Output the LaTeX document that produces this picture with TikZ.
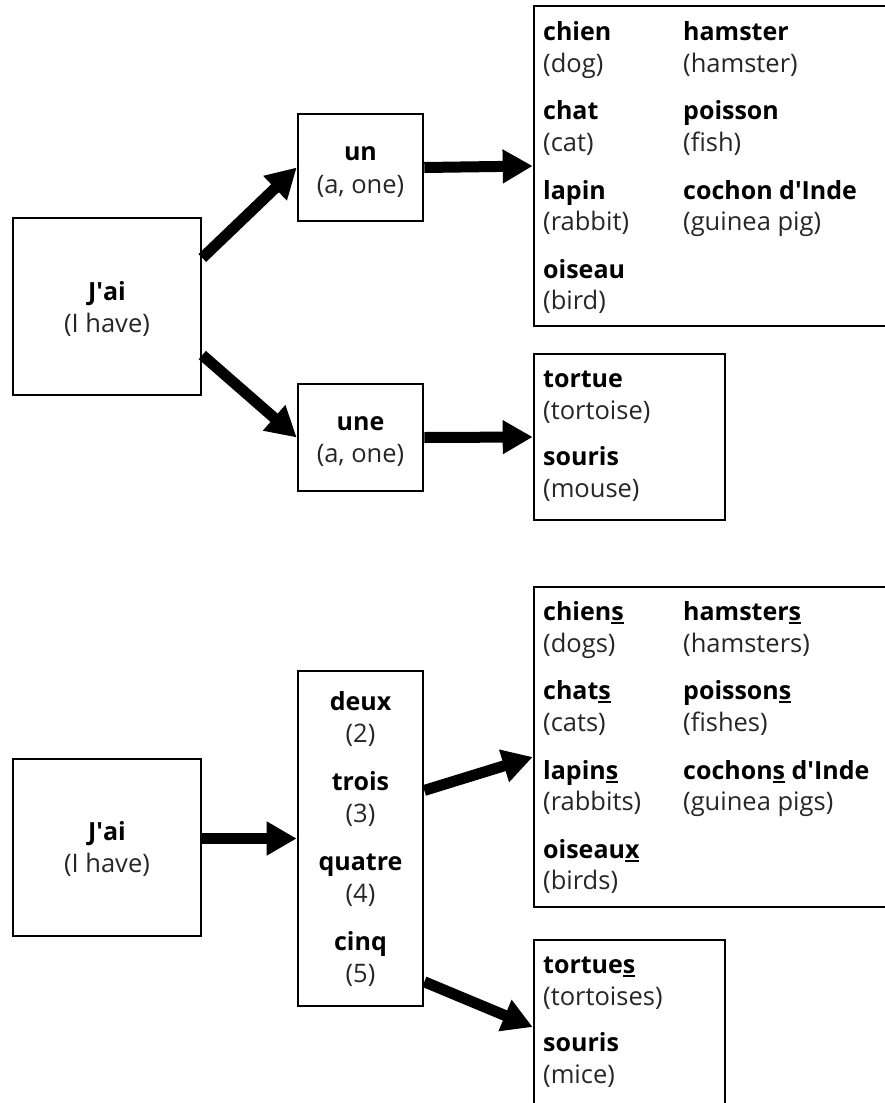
\documentclass[tikz,border=0pt]{standalone}
\usepackage{fontspec}
\setmainfont{Open Sans}
\usetikzlibrary{arrows.meta,calc}
\newcommand{\usl}[1]{\setbox0\hbox{#1}\rlap{\rule[-4.3pt]{\wd0}{2pt}}\box0\relax}
\newcommand{\apo}{\textquotesingle}
\begin{document}
\begin{tikzpicture}[x=1pt,y=-1pt,
  font=\fontsize{25.5}{30}\selectfont,
  box/.style={draw, line width=2.6pt, inner sep=0pt, outer sep=1.3pt},
  arr/.style={line width=11pt, -{Triangle[length=30pt,width=32pt]}},
  hb/.style={anchor=base, inner sep=0pt, font=\fontsize{25}{30}\selectfont\bfseries},
  hr/.style={anchor=base, inner sep=0pt, text=black!85},
  lb/.style={anchor=base west, inner sep=0pt, font=\fontsize{25}{30}\selectfont\bfseries},
  lr/.style={anchor=base west, inner sep=0pt, text=black!85}]
\useasboundingbox (0,0) rectangle (885,1103);
\clip (0,0) rectangle (885,1103);
\fill[white] (0,0) rectangle (885,1103);

% ---------- top part ----------
\node[box, minimum width=188pt, minimum height=177pt] (jai1) at (107,306.5) {};
\node[hb] (jai1a) at (107,300) {J\apo ai};
\node[hr] (jai1b) at (107,332) {(I have)};

\node[box, minimum width=125pt, minimum height=107pt] (un) at (360.5,167.5) {};
\node[hb] (una) at (360.5,160) {un};
\node[hr] (unb) at (360.5,193) {(a, one)};

\node[box, minimum width=125pt, minimum height=107pt] (une) at (360.5,437.5) {};
\node[hb] (unea) at (360.5,430) {une};
\node[hr] (uneb) at (360.5,462) {(a, one)};

\node[box, minimum width=386pt, minimum height=320pt] (box1) at (727,166) {};
\node[lb] (b1a) at (543,40) {chien};
\node[lr] (b1b) at (543,72) {(dog)};
\node[lb] (b1c) at (543,119) {chat};
\node[lr] (b1d) at (543,151) {(cat)};
\node[lb] (b1e) at (543,199) {lapin};
\node[lr] (b1f) at (543,230) {(rabbit)};
\node[lb] (b1g) at (543,278) {oiseau};
\node[lr] (b1h) at (543,309) {(bird)};
\node[lb] (b1i) at (683,40) {hamster};
\node[lr] (b1j) at (683,72) {(hamster)};
\node[lb] (b1k) at (683,119) {poisson};
\node[lr] (b1l) at (683,151) {(fish)};
\node[lb] (b1m) at (683,199) {cochon d\apo Inde};
\node[lr] (b1n) at (683,230) {(guinea pig)};

\node[box, minimum width=191pt, minimum height=166pt] (box2) at (629.5,437) {};
\node[lb] (b2a) at (543,387) {tortue};
\node[lr] (b2b) at (543,419) {(tortoise)};
\node[lb] (b2c) at (543,465) {souris};
\node[lr] (b2d) at (543,497) {(mouse)};

\draw[arr] (jai1.27) -- (un.west);
\draw[arr] (jai1.-27.5) -- (une.west);
\draw[arr] (un.east) -- (box1.west);
\draw[arr] (une.east) -- (box2.west);

% ---------- bottom part ----------
\node[box, minimum width=188pt, minimum height=177pt] (jai2) at (107,847.5) {};
\node[hb] (jai2a) at (107,840) {J\apo ai};
\node[hr] (jai2b) at (107,872) {(I have)};

\node[box, minimum width=125pt, minimum height=335pt] (nums) at (360.5,838.5) {};
\node[hb] (n2a) at (360.5,710) {deux};
\node[hr] (n2b) at (360.5,742) {(2)};
\node[hb] (n3a) at (360.5,790) {trois};
\node[hr] (n3b) at (360.5,822) {(3)};
\node[hb] (n4a) at (360.5,870) {quatre};
\node[hr] (n4b) at (360.5,902) {(4)};
\node[hb] (n5a) at (360.5,950) {cinq};
\node[hr] (n5b) at (360.5,982) {(5)};

\node[box, minimum width=386pt, minimum height=320pt] (box3) at (727,747) {};
\node[lb] (b3a) at (543,620) {chien\usl{s}};
\node[lr] (b3b) at (543,652) {(dogs)};
\node[lb] (b3c) at (543,699) {chat\usl{s}};
\node[lr] (b3d) at (543,731) {(cats)};
\node[lb] (b3e) at (543,779) {lapin\usl{s}};
\node[lr] (b3f) at (543,810) {(rabbits)};
\node[lb] (b3g) at (543,858) {oiseau\usl{x}};
\node[lr] (b3h) at (543,889) {(birds)};
\node[lb] (b3i) at (683,620) {hamster\usl{s}};
\node[lr] (b3j) at (683,652) {(hamsters)};
\node[lb] (b3k) at (683,699) {poisson\usl{s}};
\node[lr] (b3l) at (683,731) {(fishes)};
\node[lb] (b3m) at (683,779) {cochon\usl{s} d\apo Inde};
\node[lr] (b3n) at (683,810) {(guinea pigs)};

\node[box, minimum width=191pt, minimum height=174pt] (box4) at (629.5,1027) {};
\node[lb] (b4a) at (543,973) {tortue\usl{s}};
\node[lr] (b4b) at (543,1005) {(tortoises)};
\node[lb] (b4c) at (543,1051) {souris};
\node[lr] (b4d) at (543,1083) {(mice)};

\draw[arr] (jai2.east |- nums.west) -- (nums.west);
\draw[arr] (nums.37.2) -- ($(box3.west)+(0,10)$);
\draw[arr] (nums.-66.6) -- (box4.west);
\end{tikzpicture}
\end{document}
